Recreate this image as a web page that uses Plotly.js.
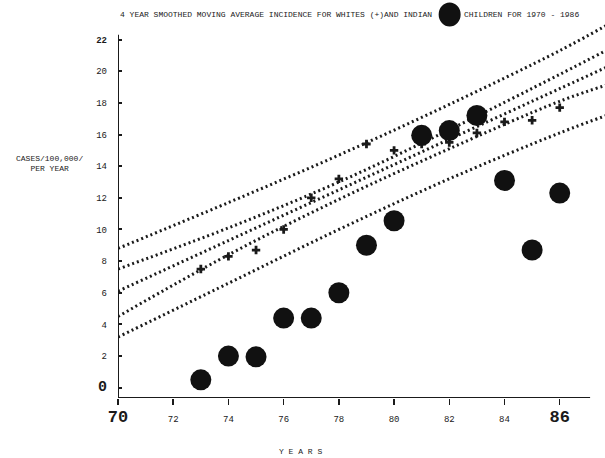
<!DOCTYPE html>
<html>
<head>
<meta charset="utf-8">
<script src="https://cdn.plot.ly/plotly-3.0.1.min.js"></script>
<style>html,body{margin:0;padding:0;background:#fff;}#chart{width:605px;height:458px;}</style>
</head>
<body>
<div id="chart"></div>
<script>
// ---- data ----
const years = [73, 74, 75, 76, 77, 78, 79, 80, 81, 82, 83, 84, 85, 86];
const indian = [0.5, 2.0, 1.95, 4.4, 4.4, 6.0, 9.0, 10.55, 15.95, 16.25, 17.2, 13.1, 8.7, 12.3];
const whites = [7.5, 8.3, 8.7, 10.0, 12.0, 13.2, 15.4, 15.0, 15.4, 15.5, 16.1, 16.8, 16.9, 17.7];

const bandYears = [70, 74, 78, 82, 86, 88];
const upperPred = [8.8, 11.7, 14.7, 17.9, 21.3, 23.2];
const upperConf = [7.5, 10.1, 13.0, 16.3, 19.8, 21.6];
const fitLine   = [6.1, 9.3, 12.5, 15.7, 18.9, 20.5];
const lowerConf = [4.5, 8.4, 11.9, 15.1, 18.1, 19.3];
const lowerPred = [3.2, 6.6, 10.0, 13.2, 16.1, 17.4];

const xTickVals = [70, 72, 74, 76, 78, 80, 82, 84, 86];
const xTickText = ['<b><span style="font-size:17px">70</span></b>', '72', '74', '76', '78', '80', '82', '84', '<b><span style="font-size:17px">86</span></b>'];
const yTickVals = [0, 2, 4, 6, 8, 10, 12, 14, 16, 18, 20, 22];
const yTickText = ['<b><span style="font-size:15px">0</span></b>', '2', '4', '6', '8', '10', '12', '14', '16', '18', '20', '<b>22</b>'];

const titleLeft = '4 YEAR SMOOTHED MOVING AVERAGE INCIDENCE FOR WHITES (+)AND INDIAN';
const titleRight = 'CHILDREN FOR 1970 - 1986';
const yTitle = 'CASES/100,000/<br>PER YEAR';
const xTitle = 'Y E A R S';

// ---- layout constants ----
const X_RANGE = [70, 87.64];
const Y_RANGE = [-0.65, 23.3];
const X_AXIS_END = 87.1;
const Y_AXIS_TOP = 22.3;
const MONO = 'Liberation Mono, DejaVu Sans Mono, monospace';
const INK = '#1a1a1a';

const bandStyle = {color: INK, width: 3, dash: '2px,3px', shape: 'spline'};
const bands = [upperPred, upperConf, fitLine, lowerConf, lowerPred].map(arr => ({
  x: bandYears, y: arr, type: 'scatter', mode: 'lines', line: bandStyle,
  hoverinfo: 'skip', showlegend: false, cliponaxis: true
}));

const traces = bands.concat([
  {x: years, y: whites, type: 'scatter', mode: 'markers', showlegend: false,
   marker: {symbol: 'cross', size: 7, color: INK, line: {width: 0}}},
  {x: years, y: indian, type: 'scatter', mode: 'markers', showlegend: false,
   marker: {symbol: 'circle', size: 21, color: '#111', line: {width: 0}}}
]);

const layout = {
  width: 605, height: 458,
  margin: {l: 118, r: 0, t: 19, b: 60},
  paper_bgcolor: '#ffffff', plot_bgcolor: '#ffffff',
  showlegend: false,
  font: {family: MONO, size: 9, color: INK},
  xaxis: {
    range: X_RANGE, showgrid: false, zeroline: false, showline: false,
    tickmode: 'array', tickvals: xTickVals, ticktext: xTickText,
    ticks: 'outside', ticklen: 6, tickwidth: 1.5, tickcolor: INK,
    tickfont: {family: MONO, size: 9, color: INK}, ticklabelstandoff: 6
  },
  yaxis: {
    range: Y_RANGE, showgrid: false, zeroline: false, showline: false,
    tickmode: 'array', tickvals: yTickVals, ticktext: yTickText,
    ticks: 'inside', ticklen: 4, tickwidth: 2, tickcolor: INK,
    tickfont: {family: MONO, size: 9, color: INK}, ticklabelstandoff: 10
  },
  shapes: [
    {type: 'line', xref: 'x', yref: 'y', x0: X_RANGE[0], x1: X_AXIS_END, y0: Y_RANGE[0], y1: Y_RANGE[0],
     line: {color: INK, width: 2}},
    {type: 'line', xref: 'x', yref: 'y', x0: X_RANGE[0], x1: X_RANGE[0], y0: Y_RANGE[0], y1: Y_AXIS_TOP,
     line: {color: INK, width: 2}},
    {type: 'circle', xref: 'paper', yref: 'paper', xsizemode: 'pixel', ysizemode: 'pixel',
     xanchor: 0.681, yanchor: 1.012, x0: -11, x1: 11, y0: -12, y1: 12,
     fillcolor: '#111', line: {width: 0}}
  ],
  annotations: [
    {text: titleLeft, xref: 'paper', yref: 'paper', x: 0, y: 1.013, xanchor: 'left', yanchor: 'middle',
     showarrow: false, font: {family: MONO, size: 8, color: INK}},
    {text: titleRight, xref: 'paper', yref: 'paper', x: 0.706, y: 1.013, xanchor: 'left', yanchor: 'middle',
     showarrow: false, font: {family: MONO, size: 8, color: INK}},
    {text: yTitle, xref: 'paper', yref: 'paper', x: -0.14, y: 0.618, xanchor: 'center', yanchor: 'middle',
     showarrow: false, align: 'center', font: {family: MONO, size: 8, color: INK}},
    {text: xTitle, xref: 'paper', yref: 'paper', x: 0.374, y: -0.142, xanchor: 'center', yanchor: 'middle',
     showarrow: false, font: {family: MONO, size: 8, color: INK}}
  ]
};

Plotly.newPlot('chart', traces, layout, {displayModeBar: false, staticPlot: true});
</script>
</body>
</html>
